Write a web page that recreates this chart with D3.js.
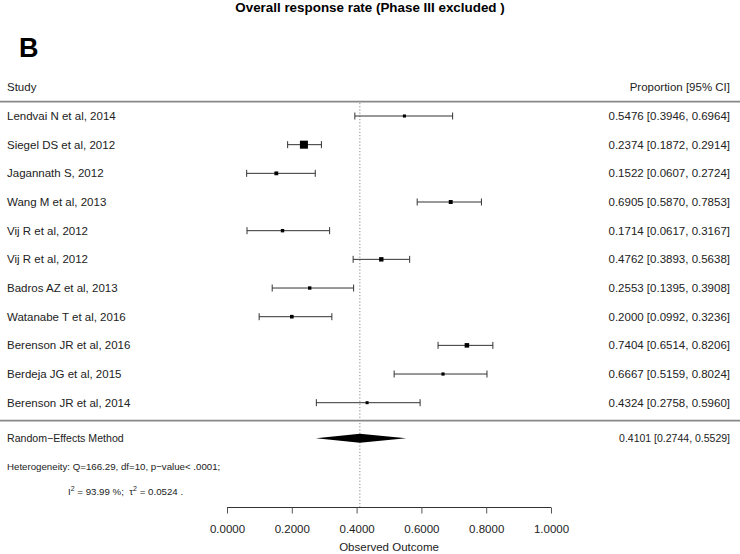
<!DOCTYPE html>
<html><head><meta charset="utf-8">
<script src="https://cdn.jsdelivr.net/npm/d3@7"></script>
<style>body{margin:0;background:#fff}svg{display:block;font-family:"Liberation Sans",Arial,sans-serif}</style>
</head><body>
<svg id="c" width="740" height="554"></svg>
<script>
const studies = ["Lendvai N et al, 2014","Siegel DS et al, 2012","Jagannath S, 2012","Wang M et al, 2013","Vij R et al, 2012","Vij R et al, 2012","Badros AZ et al, 2013","Watanabe T et al, 2016","Berenson JR et al, 2016","Berdeja JG et al, 2015","Berenson JR et al, 2014"];
const est = [0.5476,0.2374,0.1522,0.6905,0.1714,0.4762,0.2553,0.2000,0.7404,0.6667,0.4324];
const lower = [0.3946,0.1872,0.0607,0.5870,0.0617,0.3893,0.1395,0.0992,0.6514,0.5159,0.2758];
const upper = [0.6964,0.2914,0.2724,0.7853,0.3167,0.5638,0.3908,0.3236,0.8206,0.8024,0.5960];
const weights = [170,1420,356,393,246,505,247,312,541,202,151];
const summary = {label:"Random\u2212Effects Method", est:0.4101, lo:0.2744, hi:0.5529};
const xTicks = [0,0.2,0.4,0.6,0.8,1.0];

const svg = d3.select("#c");
const x = d3.scaleLinear().domain([0,1]).range([227,551]);
const y = d3.scaleLinear().domain([0,studies.length-1]).range([116,402.7]);
const sz = d3.scaleLinear().domain(d3.extent(weights)).range([3,8]);
const fmt = d3.format(".4f");
const fs = 11.5;

svg.append("text").attr("x",370).attr("y",11.5).attr("text-anchor","middle")
  .attr("font-size",13.4).attr("font-weight","bold").text("Overall response rate (Phase III excluded )");
svg.append("text").attr("x",19).attr("y",57).attr("font-size",27).attr("font-weight","bold").text("B");

svg.append("text").attr("x",7).attr("y",91).attr("font-size",fs).attr("fill","#222").text("Study");
svg.append("text").attr("x",730).attr("y",91).attr("text-anchor","end").attr("font-size",fs).attr("fill","#222").text("Proportion [95% CI]");

svg.append("line").attr("x1",0).attr("x2",740).attr("y1",101.7).attr("y2",101.7).attr("stroke","#888").attr("stroke-width",1.8);
svg.append("line").attr("x1",0).attr("x2",740).attr("y1",420.7).attr("y2",420.7).attr("stroke","#888").attr("stroke-width",1.8);

svg.append("line").attr("x1",x(summary.est)).attr("x2",x(summary.est)).attr("y1",103).attr("y2",507)
  .attr("stroke","#888").attr("stroke-width",1).attr("stroke-dasharray","1.2,2");

const g = svg.append("g");
studies.forEach((s,i)=>{
  const yy = y(i);
  g.append("text").attr("x",7).attr("y",yy+4).attr("font-size",fs).attr("fill","#222").text(s);
  g.append("text").attr("x",730).attr("y",yy+4).attr("text-anchor","end").attr("font-size",fs).attr("fill","#222")
    .text(`${fmt(est[i])} [${fmt(lower[i])}, ${fmt(upper[i])}]`);
  g.append("line").attr("x1",x(lower[i])).attr("x2",x(upper[i])).attr("y1",yy).attr("y2",yy).attr("stroke","#333").attr("stroke-width",1);
  [lower[i],upper[i]].forEach(v=>g.append("line").attr("x1",x(v)).attr("x2",x(v)).attr("y1",yy-3.5).attr("y2",yy+3.5).attr("stroke","#333").attr("stroke-width",1));
  const s2 = sz(weights[i]);
  g.append("rect").attr("x",x(est[i])-s2/2).attr("y",yy-s2/2).attr("width",s2).attr("height",s2).attr("fill","#000");
});

const sy = 438.3;
svg.append("polygon").attr("points",[[x(summary.lo),sy],[x(summary.est),sy-4.5],[x(summary.hi),sy],[x(summary.est),sy+4.5]].map(p=>p.join(",")).join(" ")).attr("fill","#000");
svg.append("text").attr("x",7).attr("y",sy+4).attr("font-size",10.6).attr("fill","#222").text(summary.label);
svg.append("text").attr("x",730).attr("y",sy+4).attr("text-anchor","end").attr("font-size",10.5).attr("fill","#222")
  .text(`${fmt(summary.est)} [${fmt(summary.lo)}, ${fmt(summary.hi)}]`);

svg.append("text").attr("x",7).attr("y",470).attr("font-size",9.7).attr("fill","#222").text("Heterogeneity: Q=166.29, df=10, p\u2212value< .0001;");
const t2 = svg.append("text").attr("x",68).attr("y",495).attr("font-size",9.7).attr("fill","#222").attr("xml:space","preserve").style("white-space","pre");
t2.append("tspan").text("I");
t2.append("tspan").attr("dy",-4).attr("font-size",7).text("2");
t2.append("tspan").attr("dy",4).text(" = 93.99 %;\u00a0\u00a0\u03c4");
t2.append("tspan").attr("dy",-4).attr("font-size",7).text("2");
t2.append("tspan").attr("dy",4).text(" = 0.0524 .");

const ax = svg.append("g").attr("transform","translate(0,507.5)")
  .call(d3.axisBottom(x).tickValues(xTicks).tickFormat(fmt).tickSize(6).tickPadding(11));
ax.select(".domain").attr("stroke","#333").attr("d",`M${x(0)},0H${x(1)}`);
ax.selectAll(".tick line").attr("stroke","#555");
ax.selectAll(".tick text").attr("font-size",fs).attr("fill","#222").attr("font-family",'"Liberation Sans",Arial,sans-serif');
svg.append("text").attr("x",x(0.5)).attr("y",551).attr("text-anchor","middle").attr("font-size",fs).attr("fill","#222").text("Observed Outcome");
</script>
</body></html>
